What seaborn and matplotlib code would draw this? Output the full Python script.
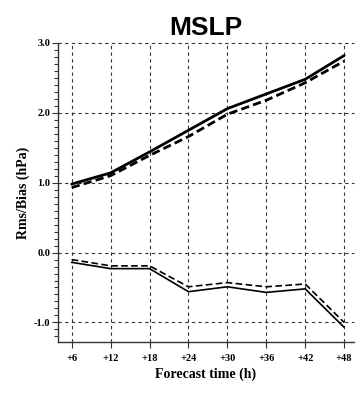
import numpy as np
import pandas as pd
import matplotlib
matplotlib.use("Agg")
import matplotlib.pyplot as plt
import seaborn as sns
from matplotlib.ticker import MultipleLocator

# Forecast lead times (h)
lead_times = [6, 12, 18, 24, 30, 36, 42, 48]
tick_labels = ["+6", "+12", "+18", "+24", "+30", "+36", "+42", "+48"]

# RMS error (hPa), two experiments
rms_solid = [0.98, 1.14, 1.44, 1.75, 2.06, 2.27, 2.48, 2.82]
rms_dashed = [0.93, 1.10, 1.39, 1.66, 1.98, 2.18, 2.43, 2.74]

# Bias (hPa), two experiments
bias_solid = [-0.14, -0.23, -0.23, -0.56, -0.49, -0.57, -0.52, -1.07]
bias_dashed = [-0.10, -0.19, -0.19, -0.49, -0.43, -0.49, -0.45, -1.00]

sns.set_style("white")
plt.rcParams["font.family"] = ["Liberation Serif", "DejaVu Serif"]
plt.rcParams["text.color"] = "black"
plt.rcParams["axes.labelcolor"] = "black"
plt.rcParams["xtick.color"] = "black"
plt.rcParams["ytick.color"] = "black"

fig = plt.figure(figsize=(3.56, 3.94), dpi=100)
ax = fig.add_axes([0.163, 0.132, 0.831, 0.759])

series = [
    (rms_solid, "-", 2.0),
    (rms_dashed, (0, (3, 1.5)), 2.0),
    (bias_solid, "-", 1.2),
    (bias_dashed, (0, (4, 2)), 1.2),
]
for vals, ls, lw in series:
    sns.lineplot(x=lead_times, y=vals, ax=ax, color="black",
                 linestyle=ls, linewidth=lw, legend=False)

ax.set_xlim(3.9, 49.5)
ax.set_ylim(-1.28, 3.0)

ax.set_xticks(lead_times)
ax.set_xticklabels(tick_labels)
ax.yaxis.set_major_locator(MultipleLocator(1.0))
ax.yaxis.set_minor_locator(MultipleLocator(0.1))
ax.set_yticklabels([f"{v:.1f}" for v in ax.get_yticks()])

ax.grid(True, which="major", color="#333333", linestyle=(0, (3, 3)),
        linewidth=0.8)
for gl in ax.get_xgridlines() + ax.get_ygridlines():
    gl.set_clip_on(False)

for side in ["top", "right"]:
    ax.spines[side].set_visible(False)
for side in ["left", "bottom"]:
    ax.spines[side].set_color("#333333")
    ax.spines[side].set_linewidth(1.0)

ax.tick_params(axis="both", which="major", direction="out", length=4,
               width=0.8, color="#333333", labelsize=7.5, pad=1.5,
               left=True, bottom=True)
ax.tick_params(axis="y", which="minor", direction="out", length=3,
               width=0.8, color="#333333", left=True)
ax.tick_params(axis="x", which="major", pad=5)
for lbl in ax.get_xticklabels() + ax.get_yticklabels():
    lbl.set_fontweight("bold")

ax.set_title("MSLP", fontsize=19, fontweight="bold", color="black",
             family=["Liberation Sans", "DejaVu Sans"], pad=6)
ax.set_xlabel("Forecast time (h)", fontsize=10, fontweight="bold", labelpad=3)
ax.set_ylabel("Rms/Bias (hPa)", fontsize=10, fontweight="bold", labelpad=3)

fig.savefig("out.png", dpi=100)
